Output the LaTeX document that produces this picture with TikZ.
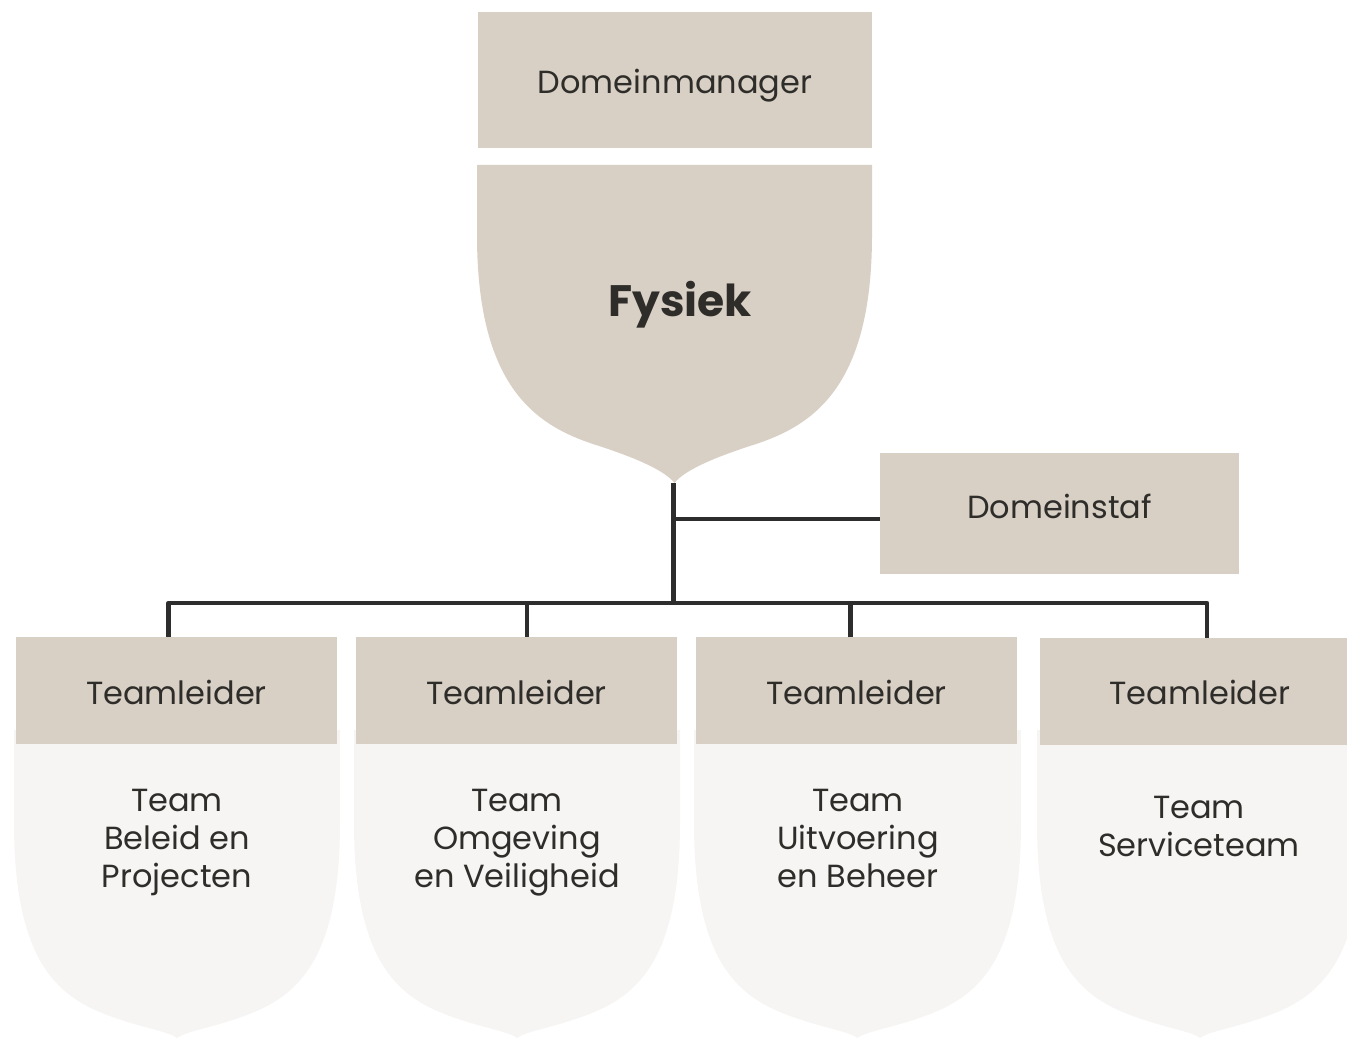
\documentclass[tikz,border=0pt]{standalone}
\usepackage{fontspec}
\setmainfont{Poppins}
\definecolor{beige}{HTML}{D9D0C5}
\definecolor{pale}{HTML}{F6F5F3}
\definecolor{ink}{HTML}{2E2D2A}
\definecolor{linec}{HTML}{2D2D2D}
\tikzset{
  box/.style={fill=beige, draw=none, inner sep=0pt, minimum width=321pt, minimum height=107pt, text=ink, font=\fontsize{32}{38}\selectfont, text height=0pt, text depth=0pt},
  lbl/.style={text=ink, inner sep=0pt, align=center, font=\fontsize{32}{38}\selectfont},
  conn/.style={draw=linec, line width=4.8pt, line join=round},
}
\newcommand{\lowtext}[2]{\raisebox{-#1pt}{#2}}
\newcommand{\bigshield}[4]{%
  \fill[#4, shift={(#1,#2)}, xscale=#3, yscale=318]
    (-1,0) -- (-1,0.22) .. controls (-1,0.7) and (-0.7,0.82) .. (-0.4,0.88)
    .. controls (-0.2,0.92) and (-0.05,0.96) .. (0,1)
    .. controls (0.05,0.96) and (0.2,0.92) .. (0.4,0.88)
    .. controls (0.7,0.82) and (1,0.7) .. (1,0.22) -- (1,0) -- cycle;}
\newcommand{\teamshield}[4]{%
  \fill[#4, shift={(#1,#2)}, xscale=#3, yscale=308]
    (-1,0) -- (-1,0.3) .. controls (-1,0.78) and (-0.7,0.88) .. (-0.35,0.94)
    .. controls (-0.18,0.97) and (-0.05,0.98) .. (0,1)
    .. controls (0.05,0.98) and (0.18,0.97) .. (0.35,0.94)
    .. controls (0.7,0.88) and (1,0.78) .. (1,0.3) -- (1,0) -- cycle;}
\begin{document}
\begin{tikzpicture}[x=1pt, y=-1pt]
\useasboundingbox (0,0) rectangle (1347,1038);
\clip (0,0) rectangle (1347,1038);
% top
\node[box, minimum width=394pt, minimum height=136pt] (dm) at (675,80) {\lowtext{13.4}{Domeinmanager}};
\bigshield{674.5}{165}{197.5}{beige}
\node[lbl, font=\fontsize{44}{50}\selectfont\bfseries] (fys) at (680,305) {Fysiek};
\coordinate (tip) at (673.5,483);
% staf
\node[box, minimum width=359pt, minimum height=121pt] (staf) at (1059.5,513.5) {\lowtext{4.8}{Domeinstaf}};
% team shields
\teamshield{177}{730}{163}{pale}
\teamshield{517}{730}{163}{pale}
\teamshield{857.5}{730}{163.5}{pale}
\teamshield{1200}{730}{163}{pale}
% teamleiders
\node[box] (tl1) at (176.5,690.5) {\lowtext{13.8}{Teamleider}};
\node[box] (tl2) at (516.5,690.5) {\lowtext{13.8}{Teamleider}};
\node[box] (tl3) at (856.5,690.5) {\lowtext{13.8}{Teamleider}};
\node[box] (tl4) at (1200,691.5) {\lowtext{12.8}{Teamleider}};
% team texts
\node[lbl] (t1) at (177,842) {Team\\Beleid en\\Projecten};
\node[lbl] (t2) at (517,843) {Team\\Omgeving\\en Veiligheid};
\node[lbl] (t3) at (858,838) {Team\\Uitvoering\\en Beheer};
\node[lbl] (t4) at (1199,826) {Team\\Serviceteam};
% connectors
\coordinate (br) at (673.5,519);
\coordinate (bus) at (673.5,603);
\coordinate (d1) at (168.5,603);
\coordinate (d2) at (527,603);
\coordinate (d3) at (850.5,603);
\coordinate (d4) at (1207,603);
\draw[conn] (tip) -- (bus);
\draw[conn] (br) -- (br -| staf.west);
\draw[conn] (d1 |- tl1.north) -- (d1) -- (d4) -- (d4 |- tl4.north);
\draw[conn] (d2) -- (d2 |- tl2.north);
\draw[conn] (d3) -- (d3 |- tl3.north);
\end{tikzpicture}
\end{document}
